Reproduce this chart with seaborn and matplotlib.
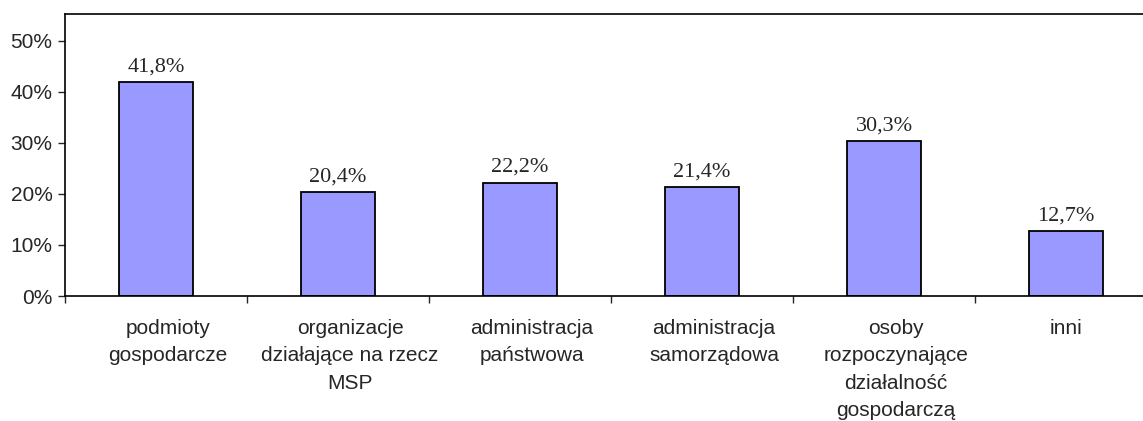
import pandas as pd
import seaborn as sns
import matplotlib.pyplot as plt
from matplotlib.ticker import FixedLocator

# ── Data ──────────────────────────────────────────────────────────────────────
categories = [
    "podmioty\ngospodarcze",
    "organizacje\ndziałające na rzecz\nMSP",
    "administracja\npaństwowa",
    "administracja\nsamorządowa",
    "osoby\nrozpoczynające\ndziałalność\ngospodarczą",
    "inni",
]
shares = [41.8, 20.4, 22.2, 21.4, 30.3, 12.7]
value_labels = ["41,8%", "20,4%", "22,2%", "21,4%", "30,3%", "12,7%"]
y_ticks = [0, 10, 20, 30, 40, 50]

df = pd.DataFrame({"kategoria": categories, "udzial": shares})

# ── Plot ──────────────────────────────────────────────────────────────────────
sns.set_style("white")
plt.rcParams["font.family"] = ["Liberation Sans", "DejaVu Sans"]

W, H = 1143, 421
fig = plt.figure(figsize=(W / 100, H / 100), dpi=100)
ax = fig.add_axes([65 / W, 125 / H, 1092 / W, 282 / H])

sns.barplot(data=df, x="kategoria", y="udzial", color="#9999FF",
            edgecolor="black", linewidth=1.3, width=0.405,
            saturation=1, errorbar=None, ax=ax)

for container in ax.containers:
    ax.bar_label(container, labels=value_labels, padding=4,
                 fontsize=16, family="Liberation Serif")

ax.set_xlim(-0.5, 5.5)
ax.set_ylim(0, 55.2)

# y axis
ax.set_yticks(y_ticks)
ax.set_yticklabels([f"{v}%" for v in y_ticks], fontsize=15)
ax.tick_params(axis="y", direction="out", length=5, width=1, pad=4, left=True)

# x axis: ticks between categories, labels near centres
# (wrapped labels in the original sit slightly right of the bars, except the last)
label_shift = [0.066] * (len(categories) - 1) + [0.0]
ax.xaxis.set_major_locator(FixedLocator([i - 0.5 for i in range(len(categories) + 1)]))
ax.xaxis.set_major_formatter(plt.NullFormatter())
ax.xaxis.set_minor_locator(FixedLocator([i + s for i, s in enumerate(label_shift)]))
ax.set_xticklabels(categories, minor=True, fontsize=15, linespacing=1.56)
ax.tick_params(axis="x", which="major", direction="out", length=5, width=1, bottom=True)
ax.tick_params(axis="x", which="minor", length=0, pad=16.5)

ax.set_xlabel("")
ax.set_ylabel("")
for side in ["top", "right", "bottom", "left"]:
    ax.spines[side].set_visible(True)
    ax.spines[side].set_color("black")
    ax.spines[side].set_linewidth(1.2)

plt.savefig("out.png", dpi=100)
plt.close()
